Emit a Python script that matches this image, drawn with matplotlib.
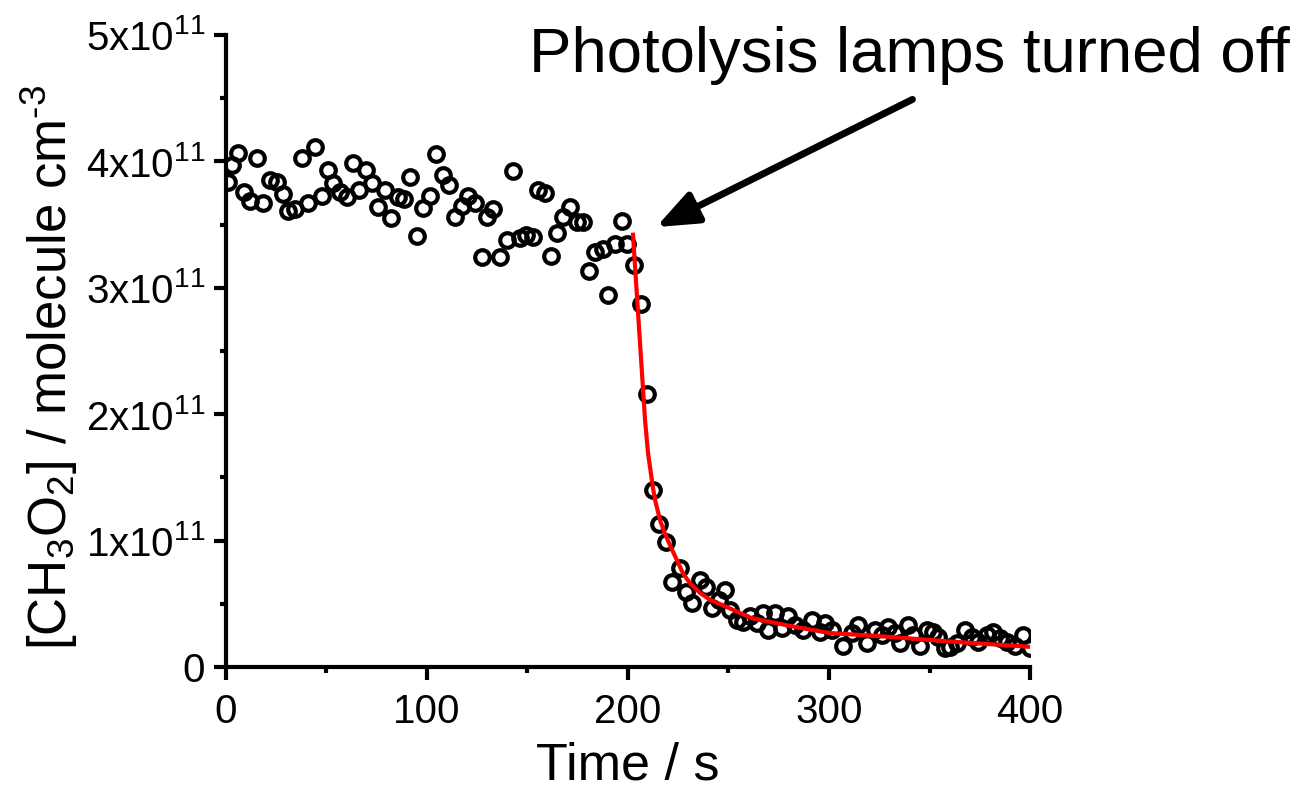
import matplotlib
matplotlib.use("Agg")
import matplotlib.pyplot as plt
from matplotlib.ticker import MultipleLocator, FuncFormatter

plt.rcParams['font.family'] = ['Liberation Sans', 'DejaVu Sans']
plt.rcParams['mathtext.fontset'] = 'custom'
plt.rcParams['mathtext.rm'] = 'Liberation Sans'
plt.rcParams['mathtext.it'] = 'Liberation Sans'

# measured [CH3O2], units of 1e11 molecule cm-3
time_s = [1.0, 3.0, 6.0, 9.0, 11.9, 15.4, 18.4, 21.9, 25.4, 28.4,
          30.8, 34.3, 37.8, 40.8, 44.3, 47.8, 50.7, 53.2, 56.7, 60.2,
          63.2, 66.2, 69.7, 72.6, 75.6, 79.1, 82.1, 85.6, 88.6, 91.5,
          95.0, 98.0, 101.5, 104.5, 108.0, 110.9, 113.9, 117.4, 120.4, 123.9,
          127.4, 129.9, 132.8, 136.3, 139.8, 142.8, 146.3, 149.3, 152.7, 155.2,
          158.7, 161.7, 164.7, 167.7, 171.1, 174.6, 177.6, 180.6, 183.6, 187.6,
          190.0, 193.5, 197.0, 199.5, 203.0, 206.5, 209.5, 212.4, 215.4, 218.9,
          221.9, 225.9, 228.9, 231.8, 235.8, 238.8, 241.8, 245.3, 248.3, 250.7,
          254.2, 257.2, 260.7, 264.2, 267.2, 269.7, 273.1, 276.6, 279.6, 283.1,
          287.1, 291.5, 295.5, 298.0, 301.5, 307.0, 311.4, 314.4, 318.9, 322.9,
          326.4, 329.4, 332.8, 335.3, 339.3, 341.8, 345.3, 348.8, 351.7, 354.2,
          357.7, 360.2, 363.7, 367.7, 371.1, 374.1, 378.6, 381.6, 385.1, 388.6,
          392.5, 396.5, 400.0]
conc = [3.84, 3.97, 4.07, 3.76, 3.69, 4.03, 3.67, 3.85, 3.84, 3.74,
        3.61, 3.62, 4.03, 3.67, 4.11, 3.73, 3.93, 3.83, 3.76, 3.72,
        3.99, 3.77, 3.93, 3.83, 3.64, 3.77, 3.55, 3.72, 3.70, 3.88,
        3.41, 3.63, 3.73, 4.06, 3.89, 3.81, 3.56, 3.65, 3.73, 3.67,
        3.24, 3.56, 3.62, 3.24, 3.38, 3.92, 3.39, 3.42, 3.40, 3.77,
        3.75, 3.25, 3.43, 3.56, 3.64, 3.52, 3.52, 3.13, 3.28, 3.31,
        2.94, 3.35, 3.53, 3.35, 3.18, 2.87, 2.16, 1.40, 1.13, 0.99,
        0.67, 0.78, 0.59, 0.51, 0.69, 0.63, 0.47, 0.53, 0.61, 0.45,
        0.37, 0.36, 0.40, 0.35, 0.43, 0.29, 0.43, 0.31, 0.40, 0.33,
        0.29, 0.37, 0.28, 0.35, 0.29, 0.17, 0.27, 0.33, 0.19, 0.29,
        0.25, 0.32, 0.27, 0.19, 0.33, 0.25, 0.17, 0.29, 0.28, 0.24,
        0.15, 0.16, 0.19, 0.29, 0.24, 0.20, 0.25, 0.28, 0.23, 0.20,
        0.17, 0.25, 0.15]

# fitted decay (red line)
fit_t = [202.5, 204.0, 206.0, 208.5, 210.0, 212.4, 213.5, 216.0, 218.0, 221.0,
         227.4, 231.0, 236.0, 241.0, 247.0, 261.0, 270.0, 279.0, 300.0, 329.0,
         362.0, 400.0]
fit_c = [3.42, 3.05, 2.56, 1.95, 1.69, 1.42, 1.32, 1.16, 1.07, 0.96,
         0.74, 0.66, 0.585, 0.53, 0.49, 0.39, 0.36, 0.33, 0.27, 0.24,
         0.20, 0.16]

fig = plt.figure(figsize=(13.03, 7.91), dpi=100)
ax = fig.add_axes([0.1734, 0.1567, 0.6171, 0.7991])

ax.plot(time_s, conc, 'o', mfc='none', mec='black', ms=10.5, mew=3, zorder=2)
ax.plot(fit_t, fit_c, '-', color='red', lw=3, zorder=3)

ax.set_xlim(0, 400)
ax.set_ylim(0, 5)
ax.xaxis.set_major_locator(MultipleLocator(100))
ax.xaxis.set_minor_locator(MultipleLocator(50))
ax.yaxis.set_major_locator(MultipleLocator(1))
ax.yaxis.set_minor_locator(MultipleLocator(0.5))


def sci_label(v, pos):
    if abs(v) < 1e-9:
        return "0"
    return "%gx10$^{11}$" % v


ax.yaxis.set_major_formatter(FuncFormatter(sci_label))

for side in ['top', 'right']:
    ax.spines[side].set_visible(False)
for side in ['left', 'bottom']:
    ax.spines[side].set_linewidth(3)
ax.tick_params(which='major', direction='out', length=9, width=3, labelsize=29)
ax.tick_params(which='minor', direction='out', length=4, width=3)
ax.tick_params(axis='x', pad=9.5)
ax.tick_params(axis='y', pad=6)

ax.set_xlabel("Time / s", fontsize=37.5, labelpad=8)
ax.set_ylabel(r"[CH$_3$O$_2$] / molecule cm$^{\text{-3}}$", fontsize=38)
ax.yaxis.set_label_coords(-0.1816, 0.474)

ax.text(151, 4.84, "Photolysis lamps turned off", fontsize=45.7, va='center', ha='left',
        clip_on=False)
ax.annotate("", xy=(214, 3.48), xytext=(341.5, 4.49),
            arrowprops=dict(arrowstyle='-|>,head_length=1.0,head_width=0.4',
                            lw=5, color='black', mutation_scale=25,
                            shrinkA=0, shrinkB=0),
            annotation_clip=False)

fig.savefig("out.png", dpi=100)
